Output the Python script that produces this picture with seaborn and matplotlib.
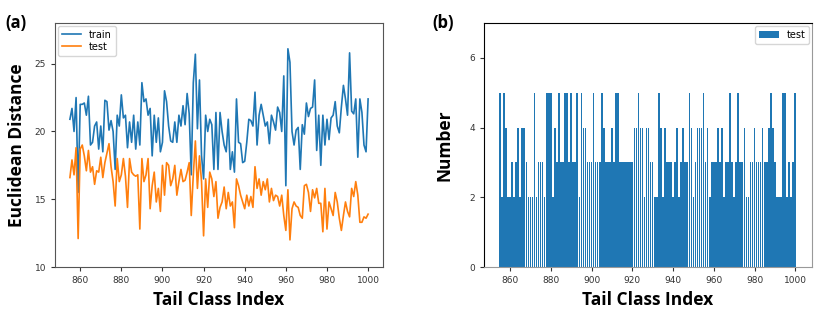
import matplotlib
matplotlib.use("Agg")
import matplotlib.pyplot as plt
import numpy as np
import pandas as pd
import seaborn as sns


tail_index = list(range(855, 1001))

train_dist = [
	20.9, 21.7, 20.0, 22.5, 15.5, 22.0, 22.0, 22.1, 21.2, 22.6,
	19.0, 19.2, 20.4, 20.7, 18.7, 20.4, 18.5, 22.3, 22.2, 20.1,
	20.8, 20.0, 17.2, 21.2, 20.4, 22.7, 21.0, 21.2, 18.8, 20.7,
	19.2, 21.2, 18.7, 20.7, 19.0, 23.6, 22.2, 22.4, 21.2, 21.7,
	18.2, 21.2, 19.2, 21.0, 18.5, 19.2, 23.0, 22.2, 20.4, 19.3,
	19.2, 20.7, 19.2, 21.2, 20.4, 21.9, 20.5, 22.8, 21.3, 16.8,
	23.6, 25.7, 20.2, 23.8, 18.2, 16.5, 21.2, 20.0, 20.9, 20.5,
	17.2, 21.4, 17.2, 21.4, 20.0, 19.0, 18.5, 20.9, 17.2, 18.5,
	17.0, 22.4, 19.2, 19.1, 17.7, 17.8, 19.2, 20.9, 20.8, 20.4,
	22.9, 19.0, 21.2, 22.0, 21.2, 20.4, 20.7, 19.1, 21.2, 20.7,
	20.1, 21.8, 21.4, 20.0, 24.1, 16.0, 26.1, 25.1, 20.0, 19.0,
	20.1, 20.3, 17.2, 20.5, 19.8, 22.1, 21.1, 21.7, 21.8, 23.8,
	18.6, 21.2, 17.5, 21.2, 19.0, 20.9, 19.4, 21.0, 21.2, 22.2,
	20.4, 19.9, 21.8, 23.4, 22.4, 21.2, 25.8, 21.5, 21.3, 22.4,
	18.1, 22.4, 21.4, 19.0, 18.5, 22.4,
]

test_dist = [
	16.6, 17.9, 16.8, 18.8, 12.1, 18.7, 19.0, 18.2, 17.1, 18.6,
	17.0, 17.4, 16.1, 17.1, 17.0, 18.1, 16.6, 17.7, 18.4, 19.1,
	17.4, 16.3, 14.5, 18.0, 16.3, 16.8, 18.0, 16.7, 14.4, 18.0,
	17.0, 16.8, 16.7, 16.8, 12.8, 18.0, 16.3, 16.8, 18.0, 14.3,
	16.0, 17.0, 14.8, 15.8, 14.1, 17.5, 15.3, 17.7, 17.5, 16.0,
	16.5, 17.5, 15.3, 16.3, 17.2, 16.3, 16.4, 17.0, 17.7, 13.8,
	16.8, 19.3, 15.8, 18.2, 16.3, 12.3, 16.5, 14.4, 17.0, 16.5,
	15.2, 16.3, 13.6, 14.4, 14.8, 15.9, 14.3, 15.5, 14.5, 14.8,
	12.9, 16.5, 16.0, 15.3, 14.8, 14.3, 15.3, 14.5, 15.2, 14.4,
	17.4, 15.8, 16.5, 15.3, 16.3, 15.7, 16.5, 14.8, 15.8, 14.9,
	15.3, 15.2, 14.5, 15.3, 13.8, 12.7, 15.7, 12.0, 14.3, 14.8,
	14.5, 14.4, 13.8, 13.6, 16.0, 16.1, 15.5, 14.1, 15.7, 15.1,
	15.8, 14.7, 14.7, 12.6, 15.8, 12.8, 14.8, 14.3, 13.8, 15.5,
	14.8, 13.6, 12.7, 13.8, 14.8, 14.1, 13.7, 15.8, 15.2, 16.3,
	15.3, 13.3, 13.3, 13.7, 13.6, 13.9,
]

test_counts = [
	5, 2, 5, 4, 2, 2, 3, 2, 3, 4,
	2, 4, 4, 3, 2, 2, 2, 5, 2, 3,
	3, 3, 2, 5, 5, 5, 2, 4, 3, 5,
	3, 3, 5, 5, 3, 5, 3, 3, 5, 2,
	5, 4, 4, 3, 3, 3, 5, 3, 3, 3,
	5, 4, 3, 3, 3, 4, 3, 5, 5, 3,
	3, 3, 3, 3, 3, 3, 4, 4, 5, 4,
	4, 2, 4, 4, 3, 3, 2, 2, 5, 4,
	2, 4, 3, 3, 3, 2, 3, 4, 2, 3,
	4, 3, 3, 5, 4, 2, 3, 4, 4, 4,
	5, 3, 4, 2, 3, 3, 3, 4, 3, 4,
	2, 3, 3, 5, 3, 2, 3, 5, 3, 3,
	4, 2, 2, 3, 3, 4, 3, 3, 3, 4,
	3, 3, 4, 5, 4, 3, 2, 2, 2, 5,
	5, 2, 3, 2, 3, 5,
]

LABEL_FONT = ["Liberation Sans Narrow", "Open Sans", "DejaVu Sans"]


def main() -> None:
	plt.rcParams["font.family"] = ["DejaVu Sans"]
	plt.rcParams["font.size"] = 6.5

	line_df = pd.DataFrame({
		"idx": tail_index * 2,
		"dist": train_dist + test_dist,
		"series": ["train"] * len(tail_index) + ["test"] * len(tail_index),
	})
	bar_df = pd.DataFrame({"idx": tail_index, "count": test_counts, "series": "test"})

	fig = plt.figure(figsize=(8.31, 3.12), dpi=100)
	ax_a = fig.add_axes([0.0662, 0.1442, 0.3947, 0.782])
	ax_b = fig.add_axes([0.5824, 0.1442, 0.3947, 0.782])

	# (a) line plot
	sns.lineplot(
		data=line_df, x="idx", y="dist", hue="series",
		palette=["#1f77b4", "#ff7f0e"], linewidth=1.2, ax=ax_a,
	)
	ax_a.set_ylim(10, 28)
	ax_a.set_yticks([10, 15, 20, 25])
	ax_a.set_xticks(range(860, 1001, 20))
	ax_a.set_xlabel("Tail Class Index", fontsize=12.5, fontweight="bold", family=LABEL_FONT)
	ax_a.set_ylabel("Euclidean Distance", fontsize=12.5, fontweight="bold", family=LABEL_FONT, labelpad=6)
	ax_a.legend(loc="upper left", fontsize=7, handlelength=2.0, borderaxespad=0.3, labelspacing=0.2)
	for sp in ax_a.spines.values():
		sp.set_color("#555555")

	# (b) bar plot
	sns.barplot(
		data=bar_df, x="idx", y="count", hue="series", palette=["#1f77b4"],
		native_scale=True, dodge=False, errorbar=None, saturation=1, width=0.8, ax=ax_b,
	)
	ax_b.set_ylim(0, 7)
	ax_b.set_yticks([0, 2, 4, 6])
	ax_b.set_xticks(range(860, 1001, 20))
	ax_b.set_xlim(847.2, 1008.2)
	ax_b.set_xlabel("Tail Class Index", fontsize=12.5, fontweight="bold", family=LABEL_FONT)
	ax_b.set_ylabel("Number", fontsize=12.5, fontweight="bold", family=LABEL_FONT, labelpad=11)
	handles, labels = ax_b.get_legend_handles_labels()
	ax_b.legend(handles, labels, loc="upper right", fontsize=7, borderaxespad=0.3)
	for name in ["right", "bottom"]:
		ax_b.spines[name].set_color("#999999")

	for ax in (ax_a, ax_b):
		ax.tick_params(labelsize=6.5, colors="#333333", length=3)
		ax.xaxis.label.set_color("black")
		ax.yaxis.label.set_color("black")

	fig.text(0.006, 0.91, "(a)", fontsize=12, fontweight="bold", family=LABEL_FONT)
	fig.text(0.52, 0.91, "(b)", fontsize=12, fontweight="bold", family=LABEL_FONT)

	fig.savefig("out.png", dpi=100)


if __name__ == "__main__":
	main()
